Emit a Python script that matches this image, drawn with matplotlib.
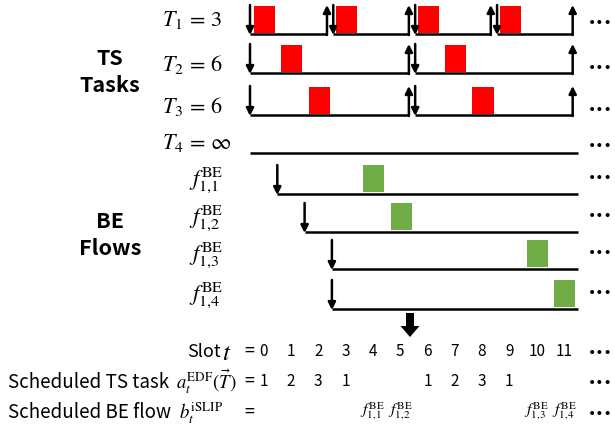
import matplotlib
matplotlib.use("Agg")
import matplotlib.pyplot as plt
from matplotlib.patches import Rectangle, FancyArrow

# ---------------- data ----------------
slots = list(range(12))
ts_names = [r"$T_1\,=\,3$", r"$T_2\,=\,6$", r"$T_3\,=\,6$", r"$T_4\,=\,\infty$"]
ts_periods = [3, 6, 6, None]          # None = infinite period
ts_schedule = [1, 2, 3, 1, 0, 0, 1, 2, 3, 1, 0, 0]   # a_t^EDF, 0 = idle
be_names = [r"$f_{1{,}1}^{\mathrm{BE}}$", r"$f_{1{,}2}^{\mathrm{BE}}$",
            r"$f_{1{,}3}^{\mathrm{BE}}$", r"$f_{1{,}4}^{\mathrm{BE}}$"]
be_arrivals = [1, 2, 3, 3]
be_schedule = [0, 0, 0, 0, 1, 2, 0, 0, 0, 0, 3, 4]   # b_t^iSLIP, 0 = none

RED = "#FF0000"
GREEN = "#70AD47"

plt.rcParams["mathtext.fontset"] = "stix"
SANS = ["Noto Sans CJK SC", "DejaVu Sans"]

W, H = 615, 433
fig = plt.figure(figsize=(W / 100, H / 100), dpi=100)
ax = fig.add_axes([0, 0, 1, 1])
X0, S = 250.0, 27.3           # pixel of slot 0, pixel width of a slot
ax.set_xlim(-X0 / S, (W - X0) / S)
ax.set_ylim(H, 0)
ax.axis("off")


def px(x):
    return (x - X0) / S


ARR_H = 29
LW = 1.8
aprops = dict(arrowstyle="-|>", lw=LW, color="black", mutation_scale=11,
              shrinkA=0, shrinkB=0)


def down_arrow(t, base):
    ax.annotate("", xy=(t, base + 1), xytext=(t, base - ARR_H), arrowprops=aprops)


def up_arrow(t, base):
    ax.annotate("", xy=(t, base - ARR_H), xytext=(t, base + 1), arrowprops=aprops)


def dots(y):
    ax.text(px(600), y, "•••", ha="center", va="center", fontsize=10,
            family="DejaVu Sans")


# ---------------- TS tasks ----------------
ts_base = [34, 73, 115, 153]
ts_lab_y = [20, 65, 107, 143]
n = len(slots)
for i, (name, P) in enumerate(zip(ts_names, ts_periods)):
    b = ts_base[i]
    ax.text(px(162), ts_lab_y[i], name, ha="left", va="center", fontsize=16)
    dots(ts_lab_y[i] + 3)
    if P is None:
        ax.plot([0, n], [b, b], color="black", lw=LW, solid_capstyle="butt")
        continue
    for k in range(n // P):
        s = k * P + (0.05 if k > 0 else 0.0)
        e = (k + 1) * P - 0.18
        ax.plot([s, e], [b, b], color="black", lw=LW, solid_capstyle="butt")
        down_arrow(s, b)
        up_arrow(e, b)
    for t, a in zip(slots, ts_schedule):
        if a == i + 1:
            ax.add_patch(Rectangle((t + 0.15, b - 28), 0.77, 27, color=RED, lw=0))

# ---------------- BE flows ----------------
be_base = [194, 232, 269, 309]
be_lab_y = [180, 218, 255, 295]
for j, (name, a0) in enumerate(zip(be_names, be_arrivals)):
    b = be_base[j]
    ax.text(px(206), be_lab_y[j], name, ha="center", va="center", fontsize=16.5)
    dots(be_lab_y[j] - 2)
    ax.plot([a0, n], [b, b], color="black", lw=LW, solid_capstyle="butt")
    down_arrow(a0, b)
    for t, f in zip(slots, be_schedule):
        if f == j + 1:
            ax.add_patch(Rectangle((t + 0.15, b - 29), 0.77, 27, color=GREEN, lw=0))

# group labels
ax.text(px(110), 72, "TS\nTasks", ha="center", va="center", fontsize=15.5,
        fontweight="bold", family=SANS, linespacing=1.3)
ax.text(px(110), 235, "BE\nFlows", ha="center", va="center", fontsize=15.5,
        fontweight="bold", family=SANS, linespacing=1.3)

# big arrow
ax.add_patch(FancyArrow(px(410), 313, 0, 24, width=8 / S, head_width=19 / S,
                        head_length=11, length_includes_head=True,
                        color="black", lw=0))

# ---------------- bottom rows ----------------
y1, y2, y3 = 352, 382, 413
ax.text(px(187), y1, "Slot", ha="left", va="center", fontsize=13, family=SANS)
ax.text(px(227), y1 + 1, "$t$", ha="center", va="center", fontsize=18)
for yy in (y1, y2, y3):
    ax.text(px(249), yy, "=", ha="center", va="center", fontsize=13, family=SANS)
for t in slots:
    ax.text(t + 0.5, y1, str(t), ha="center", va="center", fontsize=11,
            family=SANS, fontweight="light")
dots(y1 + 1)

ax.text(px(8), y2, "Scheduled TS task", ha="left", va="center", fontsize=13.5,
        family=SANS)
ax.text(px(206), y2, r"$a_t^{\mathrm{EDF}}(\vec{T})$", ha="center", va="center",
        fontsize=13.5)
for t, a in zip(slots, ts_schedule):
    if a:
        ax.text(t + 0.5, y2, str(a), ha="center", va="center", fontsize=11,
                family=SANS, fontweight="light")
dots(y2 + 1)

ax.text(px(8), y3, "Scheduled BE flow", ha="left", va="center", fontsize=13.5,
        family=SANS)
ax.text(px(201), y3, r"$b_t^{\mathrm{iSLIP}}$", ha="center", va="center",
        fontsize=13.5)
for t, f in zip(slots, be_schedule):
    if f:
        ax.text(t + 0.5, y3 - 2, be_names[f - 1], ha="center", va="center",
                fontsize=11.5)
dots(y3 + 1)

fig.savefig("out.png", dpi=100)
